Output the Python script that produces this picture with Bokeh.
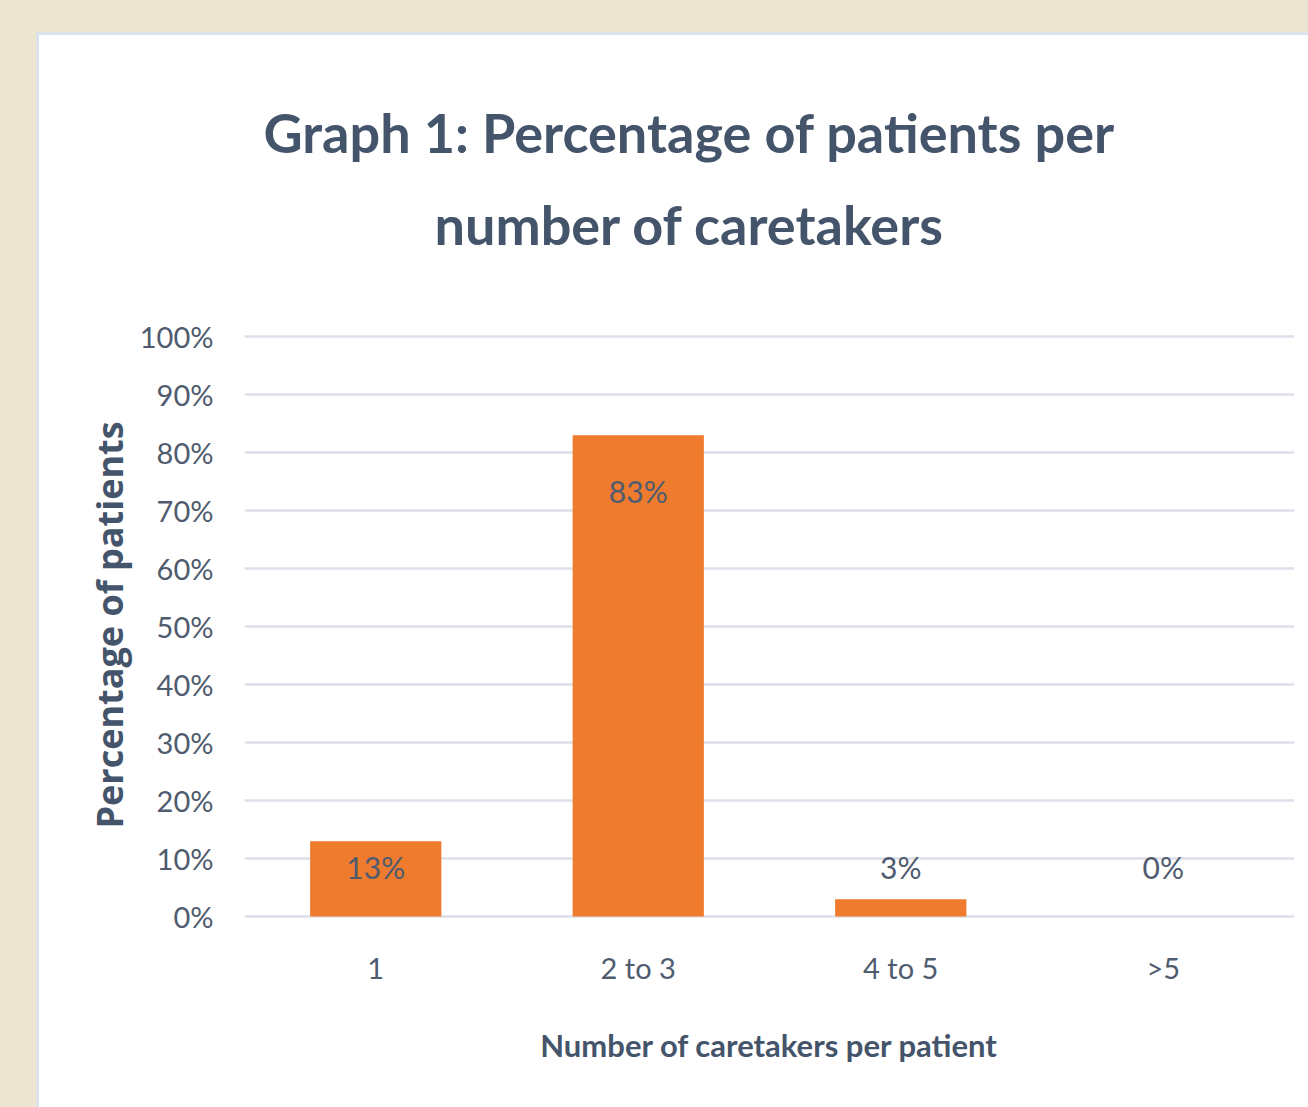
from bokeh.plotting import figure
from bokeh.models import (Range1d, FactorRange, FixedTicker, PrintfTickFormatter,
                          Title, ColumnDataSource)
from bokeh.layouts import column
from bokeh.embed import file_html
from bokeh.resources import INLINE
from bokeh.core.properties import value

# ---- data ----
categories = ["1", "2 to 3", "4 to 5", ">5"]
percentages = [13, 83, 3, 0]
y_ticks = [0, 10, 20, 30, 40, 50, 60, 70, 80, 90, 100]
title_lines = ["Graph 1: Percentage of patients per", "number of caretakers"]
x_title = "Number of caretakers per patient"
y_title = "Percentage of patients"

TITLE_C = "#44546A"
TICK_C = "#4F5B6E"
BAR_C = "#EE7B2E"
GRID_C = "#DCE1E9"

labels = [f"{v}%" for v in percentages]
label_y = [v - 9.7 if v > 50 else 8.5 for v in percentages]
src = ColumnDataSource(dict(cat=categories, val=percentages, lab=labels, ly=label_y))

p = figure(x_range=FactorRange(*categories), y_range=Range1d(-0.5, 101.05),
           width=1269, height=1072, output_backend="svg", toolbar_location=None,
           min_border_left=205, min_border_right=14, min_border_top=295,
           min_border_bottom=188)
p.border_fill_color = "white"
p.background_fill_color = "white"
p.outline_line_color = None

p.vbar(x="cat", top="val", width=0.5, source=src, fill_color=BAR_C,
       line_color=None)
p.text(x="cat", y="ly", text="lab", source=src, text_align="center",
       text_baseline="middle", text_font=value("Lato"), text_font_size="30px",
       text_color=TICK_C)

# axes
p.yaxis.ticker = FixedTicker(ticks=y_ticks)
p.yaxis.formatter = PrintfTickFormatter(format="%d%%")
for ax in (p.xaxis[0], p.yaxis[0]):
    ax.axis_line_color = None
    ax.major_tick_line_color = None
    ax.minor_tick_line_color = None
    ax.major_label_text_font = "Lato"
    ax.major_label_text_color = TICK_C
    ax.major_label_text_font_size = "29px"
    ax.axis_label_text_color = TITLE_C
    ax.axis_label_text_font_style = "bold"

p.yaxis.major_label_standoff = 25
p.yaxis.axis_label = y_title
p.yaxis.axis_label_text_font = "Open Sans"
p.yaxis.axis_label_text_font_size = "36px"
p.yaxis.axis_label_standoff = 3

p.xaxis.major_label_standoff = 24
p.xaxis.axis_label = x_title
p.xaxis.axis_label_text_font = "Lato"
p.xaxis.axis_label_text_font_size = "31px"
p.xaxis.axis_label_standoff = 38

p.xgrid.grid_line_color = None
p.ygrid.grid_line_color = GRID_C
p.ygrid.grid_line_width = 2.5

# title: lines added bottom-up so the first line ends on top
title_offsets = [19, 190]
title_standoffs = [-98, 148]
for i, line in reversed(list(enumerate(title_lines))):
    p.add_layout(Title(text=line, align="left", text_font="Lato",
                       text_font_style="bold", text_font_size="54px",
                       text_color=TITLE_C, offset=title_offsets[i],
                       standoff=title_standoffs[i]), "above")

panel = column(p, width=1269, height=1072, margin=(3, 0, 0, 3),
               styles={"background-color": "white"})
edge = column(panel, width=1272, height=1075, margin=(32, 0, 0, 36),
              styles={"background-color": "#DCE3EC"})
outer = column(edge, width=1308, height=1107,
               styles={"background-color": "#ECE5CF"})

open("out.html", "w").write(file_html(outer, INLINE))
